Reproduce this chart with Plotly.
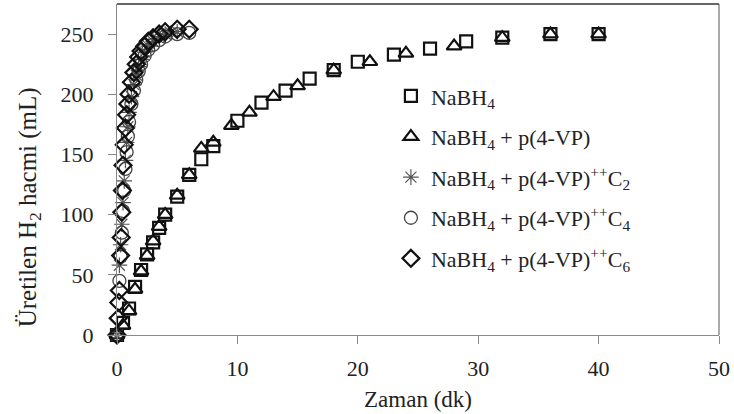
import plotly.graph_objects as go

# Hydrogen volume (mL) vs time (min)
t_nabh4 = [0, 0.5, 1, 1.5, 2, 2.5, 3, 3.5, 4, 5, 6, 7, 8, 10, 12, 14, 16, 18, 20, 23, 26, 29, 32, 36, 40]
v_nabh4 = [0, 10, 22, 40, 54, 67, 77, 89, 100, 115, 133, 146, 157, 178, 193, 203, 213, 220, 227, 233, 238, 244, 247, 250, 250]

t_p4vp = [0, 0.5, 1, 1.5, 2, 2.5, 3, 3.5, 4, 5, 6, 7, 8, 9.5, 11, 13, 15, 18, 21, 24, 28, 32, 36, 40]
v_p4vp = [0, 8, 20, 38, 53, 66, 78, 90, 100, 116, 133, 155, 160, 174, 185, 198, 207, 220, 227, 234, 240, 247, 250, 250]

t_c2 = [0, 0.2, 0.3, 0.4, 0.5, 0.6, 0.7, 0.8, 0.9, 1.0, 1.2, 1.4, 1.6, 1.8, 2.0, 2.3, 2.6, 3.0, 3.5, 4.0, 4.5, 5.0]
v_c2 = [0, 58, 75, 92, 110, 128, 145, 160, 173, 185, 198, 208, 216, 223, 229, 235, 240, 244, 248, 250, 251, 252]

t_c4 = [0, 0.2, 0.3, 0.4, 0.5, 0.6, 0.7, 0.8, 0.9, 1.0, 1.2, 1.4, 1.6, 1.8, 2.0, 2.3, 2.6, 3.0, 3.5, 4.0, 5.0, 6.0]
v_c4 = [0, 45, 65, 85, 103, 120, 138, 152, 165, 177, 192, 203, 212, 219, 225, 232, 237, 241, 245, 248, 250, 251]

t_c6 = [0, 0.1, 0.15, 0.2, 0.3, 0.35, 0.4, 0.45, 0.5, 0.6, 0.7, 0.8, 0.9, 1.0, 1.2, 1.4, 1.6, 1.8, 2.0, 2.3, 2.6, 3.0, 3.5, 4.0, 5.0, 6.0]
v_c6 = [0, 14, 27, 37, 66, 81, 102, 120, 141, 158, 172, 183, 192, 200, 210, 218, 225, 231, 236, 240, 244, 247, 250, 252, 254, 254]

names = [
    "NaBH<sub>4</sub>",
    "NaBH<sub>4</sub> + p(4-VP)",
    "NaBH<sub>4</sub> + p(4-VP)<sup>++</sup>C<sub>2</sub>",
    "NaBH<sub>4</sub> + p(4-VP)<sup>++</sup>C<sub>4</sub>",
    "NaBH<sub>4</sub> + p(4-VP)<sup>++</sup>C<sub>6</sub>",
]

series = [
    (t_nabh4, v_nabh4, "square-open", 12, "#111111", 2.2),
    (t_p4vp, v_p4vp, "triangle-up-open", 13, "#111111", 2.2),
    (t_c2, v_c2, "asterisk-open", 13, "#555555", 1.2),
    (t_c4, v_c4, "circle-open", 13, "#444444", 1.3),
    (t_c6, v_c6, "diamond-open", 13, "#111111", 2.2),
]

fig = go.Figure()
for i, ((x, y, sym, size, col, lw), name) in enumerate(zip(series, names)):
    fig.add_trace(go.Scatter(
        x=x, y=y, mode="markers", name=name, legendgroup=f"g{i}",
        marker=dict(symbol=sym, size=size, color=col, line=dict(color=col, width=lw)),
        cliponaxis=False,
    ))

serif = "Liberation Serif, Times New Roman, serif"
fig.update_layout(
    width=734, height=414,
    margin=dict(l=117, r=11, t=4, b=79),
    paper_bgcolor="white", plot_bgcolor="white",
    font=dict(family=serif, size=22, color="#222222"),
    showlegend=True,
    legend=dict(
        x=0.455, y=0.785, xanchor="left", yanchor="top",
        font=dict(family=serif, size=22, color="#222222"),
        tracegroupgap=9, bgcolor="rgba(0,0,0,0)", itemwidth=30,
    ),
    xaxis=dict(
        range=[0, 50], tick0=0, dtick=10, showgrid=False, zeroline=False,
        showline=True, linecolor="#888888", linewidth=1, mirror=False,
        ticks="outside", ticklen=8, tickcolor="#888888", ticklabelstandoff=6,
        title=dict(text="Zaman (dk)", font=dict(size=23), standoff=10),
    ),
    yaxis=dict(
        range=[0, 275], tick0=0, dtick=50, showgrid=False, zeroline=False,
        showline=True, linecolor="#888888", linewidth=1,
        ticks="outside", ticklen=8, tickcolor="#888888", ticklabelstandoff=10,
    ),
    annotations=[
        dict(text="Üretilen H<sub>2</sub> hacmi (mL)", textangle=-90,
             xref="paper", yref="paper", x=-0.145, y=0.385,
             xanchor="center", yanchor="middle", showarrow=False,
             font=dict(family=serif, size=25, color="#222222")),
    ],
    shapes=[
        dict(type="line", xref="paper", yref="paper", x0=0, x1=1, y0=1, y1=1,
             line=dict(color="#333333", width=1.5)),
        dict(type="line", xref="paper", yref="paper", x0=1, x1=1, y0=0, y1=1,
             line=dict(color="#555555", width=1)),
    ],
)

fig.write_html("out.html")
